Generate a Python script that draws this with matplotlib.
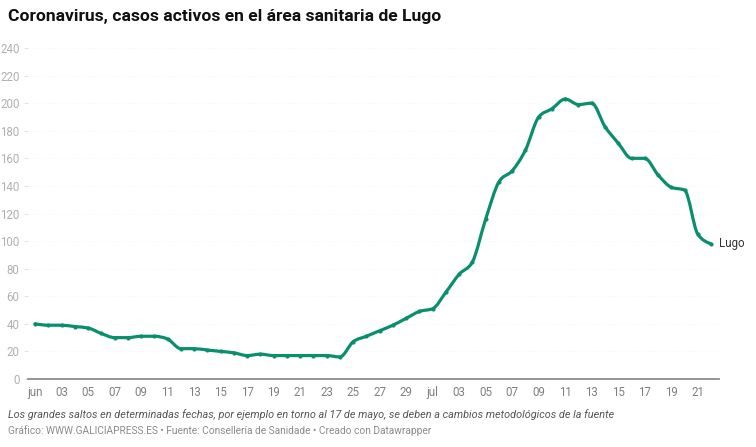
import matplotlib
matplotlib.use("Agg")
import matplotlib.pyplot as plt
from matplotlib.path import Path
from matplotlib.patches import PathPatch

# --- Data: active cases, Lugo health area, 1 June - 22 July ---
days = list(range(52))  # 0 = 1 June
casos = [40, 39, 39, 38, 37, 33, 30, 30, 31, 31,
         29, 22, 22, 21, 20, 19, 17, 18, 17, 17,
         17, 17, 17, 16, 27, 31, 35, 39, 44, 49,
         51, 63, 76, 85, 116, 143, 151, 166, 190, 196,
         203, 199, 200, 183, 171, 160, 160, 148, 139, 137,
         105, 98]

xtick_pos = list(range(0, 52, 2))
xtick_labels = ["jun", "03", "05", "07", "09", "11", "13", "15", "17", "19",
                "21", "23", "25", "27", "29", "jul", "03", "05", "07", "09",
                "11", "13", "15", "17", "19", "21"]
ytick_pos = list(range(0, 241, 20))


def sign(v):
    return (v > 0) - (v < 0)


# --- monotone-x curve through the points (like the datawrapper line) ---
def monotone_path(xs, ys):
    n = len(xs)
    t = [0.0] * n
    for i in range(1, n - 1):
        h0 = xs[i] - xs[i - 1]
        h1 = xs[i + 1] - xs[i]
        s0 = (ys[i] - ys[i - 1]) / h0
        s1 = (ys[i + 1] - ys[i]) / h1
        p = (s0 * h1 + s1 * h0) / (h0 + h1)
        t[i] = (sign(s0) + sign(s1)) * min(abs(s0), abs(s1), 0.5 * abs(p))
    h = xs[1] - xs[0]
    t[0] = (3 * (ys[1] - ys[0]) / h - t[1]) / 2
    h = xs[-1] - xs[-2]
    t[-1] = (3 * (ys[-1] - ys[-2]) / h - t[-2]) / 2

    verts = [(xs[0], ys[0])]
    codes = [Path.MOVETO]
    for i in range(n - 1):
        dx = (xs[i + 1] - xs[i]) / 3
        verts += [(xs[i] + dx, ys[i] + dx * t[i]),
                  (xs[i + 1] - dx, ys[i + 1] - dx * t[i + 1]),
                  (xs[i + 1], ys[i + 1])]
        codes += [Path.CURVE4] * 3
    return Path(verts, codes)


plt.rcParams["font.family"] = ["Roboto", "DejaVu Sans"]

fig = plt.figure(figsize=(7.56, 4.47), dpi=100)
ax = fig.add_axes([28 / 756, 1 - 379 / 447, (719 - 28) / 756, (379 - 48) / 447])

color = "#0a8f6e"
ax.add_patch(PathPatch(monotone_path(days, casos), facecolor="none",
                       edgecolor=color, lw=2.3, capstyle="round",
                       joinstyle="round", zorder=3))
ax.plot(days, casos, linestyle="none", color=color, marker="o",
        markersize=2.0, zorder=3)

ax.set_xlim(-0.53, 51.6)
ax.set_ylim(0, 240)

ax.set_xticks(xtick_pos)
ax.set_xticklabels(xtick_labels)
ax.set_yticks(ytick_pos)
ax.tick_params(axis="x", length=0, pad=5, labelsize=8.3, labelcolor="#7f7f7f")
ax.tick_params(axis="y", length=3, width=0.6, color="#dddddd", pad=3,
               labelsize=8.3, labelcolor="#b0b0b0")

ax.grid(axis="y", color="#eeeeee", lw=0.6, linestyle=(0, (1, 3)))
ax.set_axisbelow(True)
for s in ["top", "right", "left"]:
    ax.spines[s].set_visible(False)
ax.spines["bottom"].set_color("#8c8c8c")
ax.spines["bottom"].set_linewidth(1.3)

# end label
ax.annotate("Lugo", xy=(days[-1], casos[-1]), xytext=(6, 0),
            textcoords="offset points", va="center", ha="left",
            fontsize=8.3, color="#333333")

fig.text(8 / 756, 1 - 17 / 447, "Coronavirus, casos activos en el área sanitaria de Lugo",
         fontsize=12.6, fontweight="bold", color="#111111", va="center", ha="left")
fig.text(8 / 756, 1 - 415 / 447,
         "Los grandes saltos en determinadas fechas, por ejemplo en torno al 17 de mayo, "
         "se deben a cambios metodológicos de la fuente",
         fontsize=7.8, style="italic", color="#555555", va="center", ha="left")
fig.text(8 / 756, 1 - 431 / 447,
         "Gráfico: WWW.GALICIAPRESS.ES • Fuente: Consellería de Sanidade • Creado con Datawrapper",
         fontsize=7.3, color="#8a8a8a", va="center", ha="left")

fig.savefig("out.png", dpi=100, facecolor="white")
